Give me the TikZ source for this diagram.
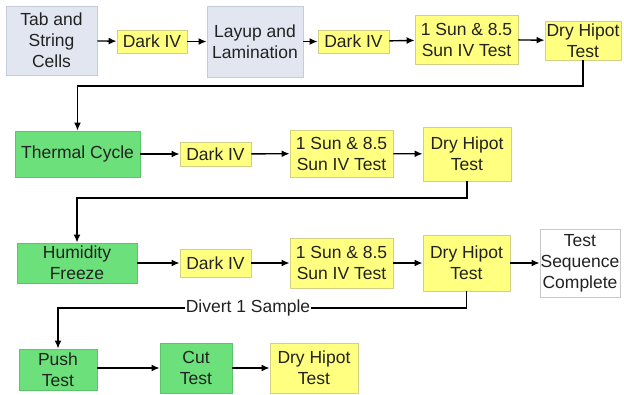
\documentclass[tikz,border=0pt]{standalone}
\usepackage{fontspec}
\setmainfont{Liberation Sans}
\usetikzlibrary{arrows.meta}
\definecolor{bluefill}{HTML}{E1E6F0}
\definecolor{blueline}{HTML}{C5CCD8}
\definecolor{yelfill}{HTML}{FFFF80}
\definecolor{yelline}{HTML}{D2CF86}
\definecolor{grnfill}{HTML}{6CE07A}
\definecolor{grnline}{HTML}{5CC46A}
\definecolor{whtline}{HTML}{C8C8C8}
\definecolor{txt}{HTML}{222222}
\tikzset{
  box/.style={draw, line width=0.9pt, inner sep=0pt, align=center, text=txt,
    font=\fontsize{17.5}{21}\selectfont},
  bluebox/.style={box, fill=bluefill, draw=blueline},
  yelbox/.style={box, fill=yelfill, draw=yelline},
  grnbox/.style={box, fill=grnfill, draw=grnline},
  whtbox/.style={box, fill=white, draw=whtline},
  arr/.style={line width=1.4pt, draw=black, -{Latex[length=8pt,width=7pt]}},
}
\begin{document}
\begin{tikzpicture}[x=1pt,y=-1pt]
\useasboundingbox[fill=white] (0,0) rectangle (624,395);
% row 1
\node[bluebox, minimum width=91pt, minimum height=69pt] (tab) at (51.5,40.5) {Tab and\\String\\Cells};
\node[yelbox, minimum width=70pt, minimum height=23pt] (d1) at (152,41.5) {Dark IV};
\node[bluebox, minimum width=96pt, minimum height=71pt] (lay) at (255,41.5) {Layup and\\Lamination};
\node[yelbox, minimum width=71pt, minimum height=23pt] (d2) at (353.5,41.5) {Dark IV};
\node[yelbox, minimum width=103pt, minimum height=49pt] (s1) at (466.5,39.5) {1 Sun \& 8.5\\Sun IV Test};
\node[yelbox, minimum width=76pt, minimum height=39pt] (h1) at (583,40.5) {Dry Hipot\\Test};
% row 2
\node[grnbox, minimum width=125pt, minimum height=46pt] (th) at (77.5,154) {Thermal Cycle};
\node[yelbox, minimum width=71pt, minimum height=24pt] (d3) at (215.5,154) {Dark IV};
\node[yelbox, minimum width=103pt, minimum height=47pt] (s2) at (341.5,153.5) {1 Sun \& 8.5\\Sun IV Test};
\node[yelbox, minimum width=88pt, minimum height=54pt] (h2) at (467,154) {Dry Hipot\\Test};
% row 3
\node[grnbox, minimum width=120pt, minimum height=40pt] (hf) at (77,263) {Humidity\\Freeze};
\node[yelbox, minimum width=71pt, minimum height=28pt] (d4) at (215.5,263) {Dark IV};
\node[yelbox, minimum width=103pt, minimum height=50pt] (s3) at (341.5,263) {1 Sun \& 8.5\\Sun IV Test};
\node[yelbox, minimum width=87pt, minimum height=56pt] (h3) at (466.5,263) {Dry Hipot\\Test};
\node[whtbox, minimum width=80pt, minimum height=68pt] (done) at (580,263) {Test\\Sequence\\Complete};
% row 4
\node[grnbox, minimum width=78pt, minimum height=41pt] (push) at (58,369.5) {Push\\Test};
\node[grnbox, minimum width=72pt, minimum height=50pt] (cut) at (196,368) {Cut\\Test};
\node[yelbox, minimum width=88pt, minimum height=50pt] (h4) at (314,368) {Dry Hipot\\Test};
% routing coordinates
\coordinate (r1) at (0,86);
\coordinate (r2) at (0,198);
\coordinate (r3) at (0,308);
% connectors
\draw[arr] (tab) -- (d1);
\draw[arr] (d1) -- (lay);
\draw[arr] (lay) -- (d2);
\draw[arr] (d2) -- (s1);
\draw[arr] (s1) -- (h1);
\draw[arr] (h1.south) -- (h1.south |- r1) -| (th.north);
\draw[arr] (th) -- (d3);
\draw[arr] (d3) -- (s2);
\draw[arr] (s2) -- (h2);
\draw[arr] (h2.south) -- (h2.south |- r2) -| (hf.north);
\draw[arr] (hf) -- (d4);
\draw[arr] (d4) -- (s3);
\draw[arr] (s3) -- (h3);
\draw[arr] (h3) -- (done);
\draw[arr] (h3.south) -- (h3.south |- r3) -| (push.north);
\node[fill=white, inner sep=1pt, text=txt, font=\fontsize{17.5}{21}\selectfont] (lbl) at (248,308) {Divert 1 Sample};
\draw[arr] (push.east |- cut) -- (cut);
\draw[arr] (cut) -- (h4);
\end{tikzpicture}
\end{document}
